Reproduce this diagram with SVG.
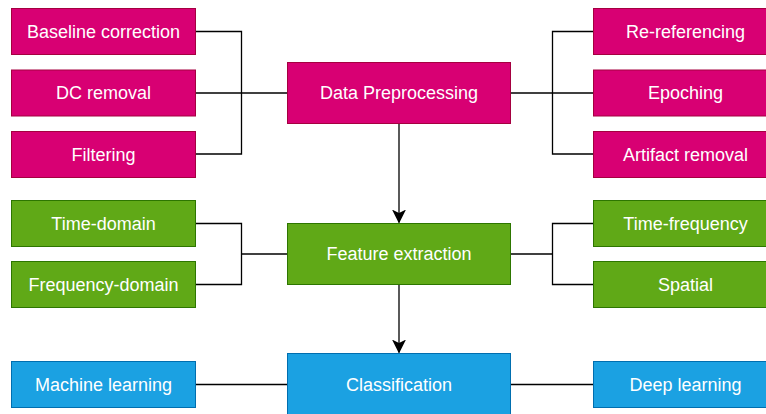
<svg xmlns="http://www.w3.org/2000/svg" width="766" height="414" viewBox="0 0 766 414">
  <style>
    .pink { fill: #d80073; stroke: #a50040; stroke-width: 1; }
    .green { fill: #60a917; stroke: #2d7600; stroke-width: 1; }
    .blue { fill: #1ba1e2; stroke: #006eaf; stroke-width: 1; }
    .lbl { fill: #ffffff; font-family: "Liberation Sans", Arial, Helvetica, sans-serif; font-size: 18px; text-anchor: middle; dominant-baseline: central; }
    .wire { fill: none; stroke: #000000; stroke-width: 1.3; }
  </style>
  <defs>
    <marker id="arrow" viewBox="0 0 14 14" refX="13" refY="7" markerWidth="14" markerHeight="14" markerUnits="userSpaceOnUse" orient="auto">
      <path d="M0,0 L14,7 L0,14 L3.5,7 Z" fill="#000000"/>
    </marker>
  </defs>
  <rect width="766" height="414" fill="#ffffff"/>

  <!-- connectors -->
  <g id="connectors">
    <!-- preprocessing steps, left -->
    <path class="wire" d="M196,31.5 H241.5 V154 H196"/>
    <path class="wire" d="M196,93 H287"/>
    <!-- preprocessing steps, right -->
    <path class="wire" d="M593,31.5 H552.5 V154 H593"/>
    <path class="wire" d="M511,93 H593"/>
    <!-- feature families, left -->
    <path class="wire" d="M196,223.5 H241.5 V284.5 H196"/>
    <path class="wire" d="M241.5,254 H287"/>
    <!-- feature families, right -->
    <path class="wire" d="M593,223.5 H552.5 V284.5 H593"/>
    <path class="wire" d="M511,254 H552.5"/>
    <!-- classifier families -->
    <path class="wire" d="M196,384.5 H287"/>
    <path class="wire" d="M511,384.5 H593"/>
    <!-- pipeline flow -->
    <path class="wire" d="M399,124 V222.5" marker-end="url(#arrow)"/>
    <path class="wire" d="M399,285 V352.5" marker-end="url(#arrow)"/>
  </g>

  <!-- main pipeline stages -->
  <g id="data-preprocessing">
    <rect class="pink" x="287.5" y="62.5" width="223" height="61"/>
    <text class="lbl" x="399" y="93">Data Preprocessing</text>
  </g>
  <g id="feature-extraction">
    <rect class="green" x="287.5" y="223.5" width="223" height="61"/>
    <text class="lbl" x="399" y="254">Feature extraction</text>
  </g>
  <g id="classification">
    <rect class="blue" x="287.5" y="353.5" width="223" height="62"/>
    <text class="lbl" x="399" y="384.5">Classification</text>
  </g>

  <!-- preprocessing steps -->
  <g id="baseline-correction">
    <rect class="pink" x="11.5" y="8.5" width="184" height="46"/>
    <text class="lbl" x="103.5" y="31.5">Baseline correction</text>
  </g>
  <g id="dc-removal">
    <rect class="pink" x="11.5" y="70" width="184" height="46"/>
    <text class="lbl" x="103.5" y="93">DC removal</text>
  </g>
  <g id="filtering">
    <rect class="pink" x="11.5" y="131.5" width="184" height="46"/>
    <text class="lbl" x="103.5" y="154.5">Filtering</text>
  </g>
  <g id="re-referencing">
    <rect class="pink" x="593.5" y="8.5" width="184" height="46"/>
    <text class="lbl" x="685.5" y="31.5">Re-referencing</text>
  </g>
  <g id="epoching">
    <rect class="pink" x="593.5" y="70" width="184" height="46"/>
    <text class="lbl" x="685.5" y="93">Epoching</text>
  </g>
  <g id="artifact-removal">
    <rect class="pink" x="593.5" y="131.5" width="184" height="46"/>
    <text class="lbl" x="685.5" y="154.5">Artifact removal</text>
  </g>

  <!-- feature families -->
  <g id="time-domain">
    <rect class="green" x="11.5" y="200.5" width="184" height="46"/>
    <text class="lbl" x="103.5" y="223.5">Time-domain</text>
  </g>
  <g id="frequency-domain">
    <rect class="green" x="11.5" y="261.5" width="184" height="46"/>
    <text class="lbl" x="103.5" y="284.5">Frequency-domain</text>
  </g>
  <g id="time-frequency">
    <rect class="green" x="593.5" y="200.5" width="184" height="46"/>
    <text class="lbl" x="685.5" y="223.5">Time-frequency</text>
  </g>
  <g id="spatial">
    <rect class="green" x="593.5" y="261.5" width="184" height="46"/>
    <text class="lbl" x="685.5" y="284.5">Spatial</text>
  </g>

  <!-- classifier families -->
  <g id="machine-learning">
    <rect class="blue" x="11.5" y="361.5" width="184" height="46"/>
    <text class="lbl" x="103.5" y="384.5">Machine learning</text>
  </g>
  <g id="deep-learning">
    <rect class="blue" x="593.5" y="361.5" width="184" height="46"/>
    <text class="lbl" x="685.5" y="384.5">Deep learning</text>
  </g>
</svg>
